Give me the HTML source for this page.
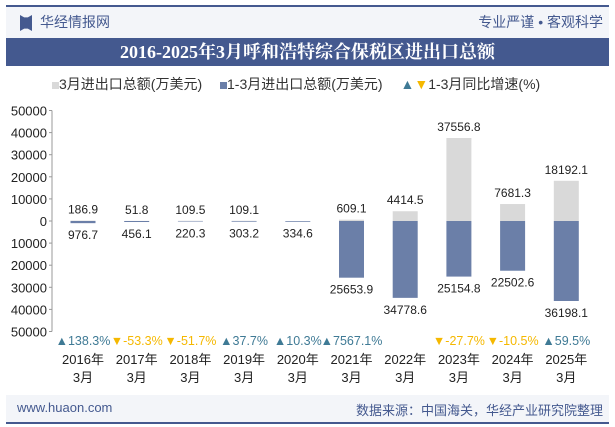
<!DOCTYPE html>
<html><head><meta charset="utf-8"><style>
body{margin:0;width:615px;height:427px;background:#fff;font-family:"Liberation Sans","Noto Sans CJK SC",sans-serif;overflow:hidden;position:relative}
.abs{position:absolute}
</style></head><body>
<div class="abs" style="left:6px;top:5px;width:603px;height:2px;background:#44598f"></div>
<div class="abs" style="left:6px;top:7px;width:603px;height:31px;background:#f3f5f9"></div>
<div class="abs" style="left:20px;top:15px;width:12px;height:16px;background:#44598f;clip-path:polygon(0 0,35% 15%,65% 15%,100% 0,100% 100%,65% 85%,35% 85%,0 100%)"></div>
<div class="abs" style="left:40px;top:12px;font-size:14px;color:#44598f">华经情报网</div>
<div class="abs" style="right:12px;top:12px;font-size:14px;color:#44598f">专业严谨 • 客观科学</div>
<div class="abs" style="left:6px;top:38px;width:603px;height:28px;background:#44598f;color:#fff;font-size:18px;font-weight:bold;text-align:center;line-height:28px;font-family:'Liberation Serif','Noto Serif CJK SC',serif">2016-2025年3月呼和浩特综合保税区进出口总额</div>
<div class="abs" style="left:52px;top:74px;font-size:14px;color:#333;white-space:nowrap">
<span><span style="display:inline-block;width:7px;height:7px;background:#d9d9d9"></span>3月进出口总额(万美元)</span>
<span style="margin-left:14px"><span style="display:inline-block;width:7px;height:7px;background:#6b7fa8"></span>1-3月进出口总额(万美元)</span>
<span style="margin-left:14px"><span style="color:#3f7a95">▲</span><span style="color:#f5b800">▼</span>1-3月同比增速(%)</span>
</div>
<svg id="chart" class="abs" style="left:0;top:0" width="615" height="427"></svg>
<div class="abs" style="left:6px;top:395px;width:603px;height:27px;background:#f3f5f9"></div>
<div class="abs" style="left:17px;top:400px;font-size:13px;color:#44598f">www.huaon.com</div>
<div class="abs" style="right:12px;top:400px;font-size:13px;color:#44598f">数据来源：中国海关，华经产业研究院整理</div>
<div class="abs" style="left:6px;top:422px;width:603px;height:2px;background:#44598f"></div>
<script>
const categories=["2016年","2017年","2018年","2019年","2020年","2021年","2022年","2023年","2024年","2025年"];
const monthly=[186.9,51.8,109.5,109.1,0,609.1,4414.5,37556.8,7681.3,18192.1];
const monthlyLabels=["186.9","51.8","109.5","109.1","","609.1","4414.5","37556.8","7681.3","18192.1"];
const cumulative=[976.7,456.1,220.3,303.2,334.6,25653.9,34778.6,25154.8,22502.6,36198.1];
const growth=[138.3,-53.3,-51.7,37.7,10.3,7567.1,null,-27.7,-10.5,59.5];
const yTicks=[50000,40000,30000,20000,10000,0,-10000,-20000,-30000,-40000,-50000];
const svg=document.getElementById('chart');const NS='http://www.w3.org/2000/svg';
function y(v){return 221-v*110.5/50000;}
function x(i){return 83+i*53.7;}
function mk(t,a,txt){const e=document.createElementNS(NS,t);for(const k in a)e.setAttribute(k,a[k]);if(txt!==undefined)e.textContent=txt;svg.appendChild(e);return e;}
const ax=mk('line',{x1:52,x2:52,y1:y(50000),y2:y(-50000),stroke:'#999'});


yTicks.forEach(v=>{
 const t=mk('text',{x:47,y:y(v)+5,'text-anchor':'end','font-size':13,fill:'#222','font-family':'Liberation Sans'},String(Math.abs(v)));
 
 
 const tk=mk('line',{x1:49,x2:52,y1:y(v),y2:y(v),stroke:'#999'});
 
 
});
categories.forEach((c,i)=>{
 const cx=x(i),w=25;
 const g=mk('rect',{x:cx-w/2,y:y(monthly[i]),width:w,height:y(0)-y(monthly[i]),fill:'#d9d9d9'});
 
 
 const b=mk('rect',{x:cx-w/2,y:y(0),width:w,height:y(-cumulative[i])-y(0),fill:'#6b7fa8'});
 
 
 const ml=mk('text',{x:cx,y:Math.min(y(monthly[i]),y(0))-7,'text-anchor':'middle','font-size':12,fill:'#222'},monthlyLabels[i]);
 
 
 const cl=mk('text',{x:cx,y:Math.max(y(-cumulative[i])+4,y(0)+4)+12,'text-anchor':'middle','font-size':12,fill:'#222'},String(cumulative[i]));
 
 
 if(growth[i]!==null){
  const up=growth[i]>=0;
  const gl=mk('text',{x:cx,y:345,'text-anchor':'middle','font-size':12.5,fill:up?'#3f7a95':'#f5b800'},(up?'▲':'▼')+growth[i]+'%');
  
  
 }
 const l1=mk('text',{x:cx,y:364,'text-anchor':'middle','font-size':13,fill:'#222'},c);
 
 
 const l2=mk('text',{x:cx,y:382,'text-anchor':'middle','font-size':13,fill:'#222'},'3月');
 
 
});
</script>
</body></html>
